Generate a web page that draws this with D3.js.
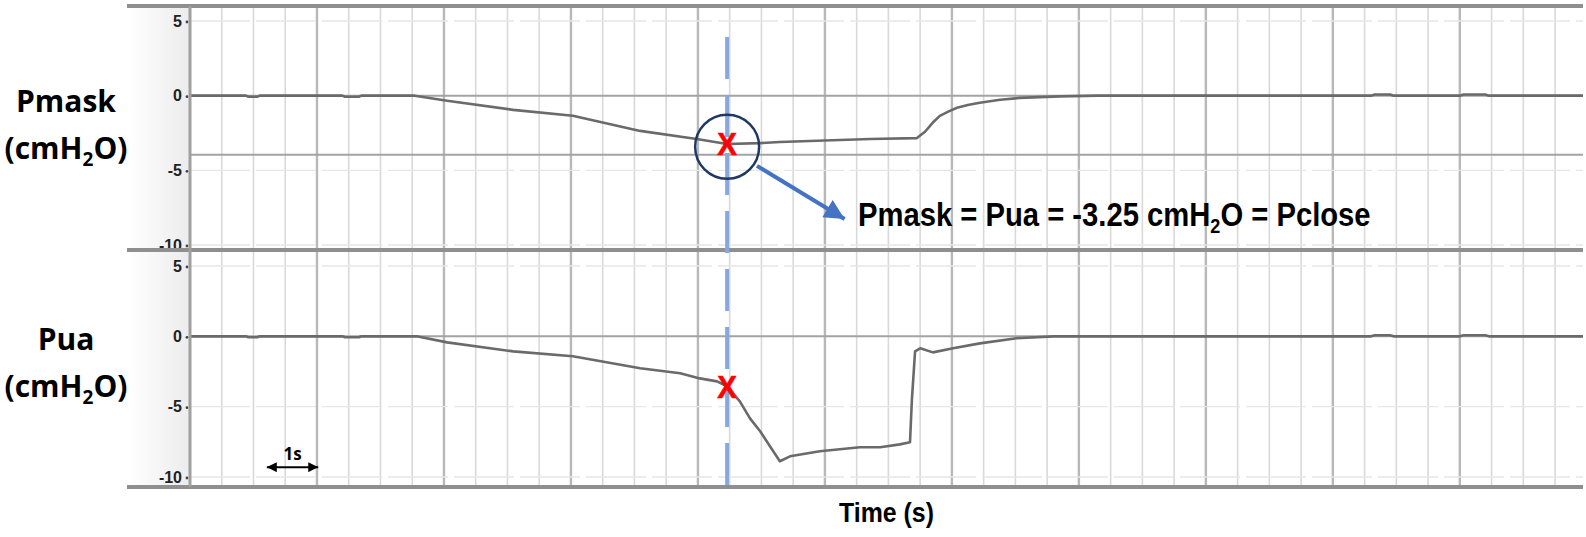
<!DOCTYPE html>
<html><head><meta charset="utf-8">
<script src="https://cdn.jsdelivr.net/npm/d3@7"></script>
<style>body{margin:0;background:#fff}svg{display:block}</style>
</head><body><svg id="c" width="1586" height="537"></svg>
<script>
// ---------- data ----------
const yTicks = [5, 0, -5, -10];
const timeMax = 21.94;
const majorStep = 2, minorStep = 0.5;

const pmaskTime  = [0, 0.88, 0.92, 1.06, 1.1, 2.4, 2.44, 2.66, 2.7, 3.54, 4.05, 5.09, 6.03, 7.09, 7.98, 8.46, 8.98, 9.29, 10.71, 11.45, 11.58, 11.7, 11.81, 11.95, 12.08, 12.25, 12.44, 12.76, 13.07, 13.7, 14.3, 18.6, 18.66, 18.9, 18.96, 20.0, 20.06, 20.4, 20.46, 21.94];
const pmaskValue = [0, 0, -0.07, -0.07, 0, 0, -0.07, -0.07, 0, 0, -0.34, -0.95, -1.35, -2.36, -2.9, -3.24, -3.18, -3.1, -2.9, -2.84, -2.4, -1.8, -1.35, -1.05, -0.81, -0.62, -0.47, -0.27, -0.15, -0.05, 0, 0, 0.08, 0.08, 0, 0, 0.08, 0.08, 0, 0];

const puaTime  = [0, 0.88, 0.92, 1.06, 1.1, 2.4, 2.44, 2.66, 2.7, 3.57, 4.05, 5.09, 6.03, 7.09, 7.72, 8.03, 8.3, 8.46, 8.66, 8.82, 8.98, 9.29, 9.45, 9.92, 10.55, 10.87, 11.18, 11.34, 11.37, 11.42, 11.5, 11.7, 12.02, 12.44, 13.02, 13.6, 18.6, 18.66, 18.9, 18.96, 20.0, 20.06, 20.4, 20.46, 21.94];
const puaValue = [0, 0, -0.07, -0.07, 0, 0, -0.07, -0.07, 0, 0, -0.43, -1.07, -1.42, -2.27, -2.63, -2.99, -3.2, -3.55, -4.62, -5.83, -6.75, -8.88, -8.53, -8.17, -7.89, -7.89, -7.68, -7.53, -4.5, -1.07, -0.85, -1.14, -0.85, -0.5, -0.14, 0, 0, 0.08, 0.08, 0, 0, 0.08, 0.08, 0, 0];

const closeTime = 8.46;          // Pclose instant
const pmaskClose = -3.25, puaClose = -3.6;
const pmaskRefLine = -3.95;      // dark reference line in top trace
const oneSecond = [1.21, 2.02];  // "1s" scale arrow
const arrowFrom = [8.93, -4.7], arrowTo = [10.31, -8.26];
const annotAt = [10.52, -8.72];

// ---------- layout ----------
const svg = d3.select("#c");
const L = 190, R = 1583;
const x = d3.scaleLinear().domain([0, timeMax]).range([L, R]);
const panels = [
  {name: "Pmask", y: d3.scaleLinear().domain([-10, 5]).range([245, 21]), t: pmaskTime, v: pmaskValue, labelY: 112},
  {name: "Pua", y: d3.scaleLinear().domain([-10, 5]).range([477, 266]), t: puaTime, v: puaValue, labelY: 350}
];

function condense(sel, target, x0) {
  const w = sel.node().getBBox().width;
  const k = target / w;
  sel.attr("transform", `translate(${x0},0) scale(${k},1) translate(${-x0},0)`);
}

const defs = svg.append("defs");
const grad = defs.append("linearGradient").attr("id", "g").attr("x1", 0).attr("x2", 1);
grad.append("stop").attr("offset", 0).attr("stop-color", "#ffffff");
grad.append("stop").attr("offset", 1).attr("stop-color", "#ececec");
svg.append("rect").attr("x", 127).attr("y", 6).attr("width", L - 127).attr("height", 481).attr("fill", "url(#g)");

const minors = d3.range(minorStep, timeMax, minorStep).filter(d => Math.abs(d / majorStep - Math.round(d / majorStep)) > 1e-6);
const majors = d3.range(majorStep, timeMax, majorStep);
svg.append("g").selectAll("line").data(minors).join("line")
  .attr("x1", d => x(d)).attr("x2", d => x(d)).attr("y1", 8).attr("y2", 485)
  .attr("stroke", "#d9d9d9").attr("stroke-width", 1.6);
svg.append("g").selectAll("line").data(majors).join("line")
  .attr("x1", d => x(d)).attr("x2", d => x(d)).attr("y1", 8).attr("y2", 485)
  .attr("stroke", "#b8b8b8").attr("stroke-width", 2.4);

panels.forEach((p, i) => {
  const g = svg.append("g");
  g.selectAll(".f").data([5, -5, -10]).join("line")
    .attr("x1", L).attr("x2", R).attr("y1", d => p.y(d)).attr("y2", d => p.y(d))
    .attr("stroke", "#e6e6e6").attr("stroke-width", 1.3).attr("stroke-dasharray", "60,6");
  g.append("line").attr("x1", L).attr("x2", R).attr("y1", p.y(0)).attr("y2", p.y(0))
    .attr("stroke", "#a3a3a3").attr("stroke-width", 2);
  if (i === 0) {
    g.append("line").attr("x1", L).attr("x2", R).attr("y1", p.y(pmaskRefLine)).attr("y2", p.y(pmaskRefLine))
      .attr("stroke", "#a3a3a3").attr("stroke-width", 2);
  }
  g.selectAll(".t").data(yTicks).join("text")
    .attr("x", 182).attr("y", d => p.y(d)).attr("dy", "0.36em").attr("text-anchor", "end")
    .attr("font-family", "Liberation Sans, Arial, sans-serif").attr("font-weight", "bold").attr("font-size", 16)
    .attr("fill", "#222").text(d => d);
  g.selectAll(".d").data(yTicks).join("circle")
    .attr("cx", 187).attr("cy", d => p.y(d) + 1).attr("r", 1.4).attr("fill", "#444");
  const pts = p.t.map((t, k) => [t, p.v[k]]);
  g.append("path").attr("d", d3.line().x(d => x(d[0])).y(d => p.y(d[1]))(pts))
    .attr("fill", "none").attr("stroke", "#6a6a6a").attr("stroke-width", 2.6).attr("stroke-linejoin", "round");
  g.append("text").attr("text-anchor", "middle").attr("x", 66).attr("y", p.labelY)
    .attr("font-family", "Open Sans, Noto Sans, sans-serif").attr("font-weight", "bold").attr("font-size", 30).attr("fill", "#000")
    .text(p.name);
  const l2 = g.append("text").attr("text-anchor", "middle").attr("x", 66).attr("y", p.labelY + 47)
    .attr("font-family", "Open Sans, Noto Sans, sans-serif").attr("font-weight", "bold").attr("font-size", 30).attr("fill", "#000");
  l2.append("tspan").text("(cmH");
  l2.append("tspan").attr("font-size", 19).attr("dy", 7).text("2");
  l2.append("tspan").attr("dy", -7).text("O)");
});

const frame = svg.append("g").attr("stroke", "#8f8f8f").attr("fill", "none");
[6, 250, 487].forEach(yv => {
  frame.append("line").attr("x1", 127).attr("x2", R).attr("y1", yv).attr("y2", yv).attr("stroke-width", 4);
});
frame.append("line").attr("x1", L).attr("x2", L).attr("y1", 6).attr("y2", 487).attr("stroke-width", 3).attr("stroke", "#a0a0a0");

svg.append("line").attr("x1", x(closeTime)).attr("x2", x(closeTime)).attr("y1", 37).attr("y2", 487)
  .attr("stroke", "#86a8df").attr("stroke-width", 4).attr("stroke-dasharray", "42,16");

const yT = panels[0].y, yB = panels[1].y;
svg.append("circle").attr("cx", x(closeTime)).attr("cy", yT(-3.42)).attr("r", 32)
  .attr("fill", "none").attr("stroke", "#1f3864").attr("stroke-width", 2.5);

defs.append("marker").attr("id", "ah").attr("viewBox", "0 0 10 10").attr("refX", 10).attr("refY", 5)
  .attr("markerWidth", 6).attr("markerHeight", 5).attr("markerUnits", "strokeWidth").attr("orient", "auto")
  .append("path").attr("d", "M0,0L10,5L0,10Z").attr("fill", "#4472c4");
svg.append("line").attr("x1", x(arrowFrom[0])).attr("y1", yT(arrowFrom[1]))
  .attr("x2", x(arrowTo[0])).attr("y2", yT(arrowTo[1]))
  .attr("stroke", "#4472c4").attr("stroke-width", 4).attr("marker-end", "url(#ah)");

[[yT, pmaskClose], [yB, puaClose]].forEach(([ys, v]) => {
  const t = svg.append("text").attr("x", x(closeTime)).attr("y", ys(v)).attr("dy", "0.36em").attr("text-anchor", "middle")
    .attr("font-family", "Liberation Sans, sans-serif").attr("font-weight", "bold")
    .attr("font-size", 31).attr("fill", "#ff0000").attr("stroke", "#ff0000").attr("stroke-width", 0.6).text("X");
  condense(t, 20, x(closeTime));
});

const at = svg.append("text").attr("x", x(annotAt[0])).attr("y", yT(annotAt[1]))
  .attr("font-family", "Liberation Sans, sans-serif").attr("font-weight", "bold")
  .attr("font-size", 34).attr("fill", "#000");
at.append("tspan").text("Pmask = Pua = -3.25 cmH");
at.append("tspan").attr("font-size", 21).attr("dy", 7).text("2");
at.append("tspan").attr("dy", -7).text("O = Pclose");
condense(at, 513, x(annotAt[0]));

const ya = yB(-9.3);
defs.append("marker").attr("id", "bh").attr("viewBox", "0 0 10 10").attr("refX", 10).attr("refY", 5)
  .attr("markerWidth", 5).attr("markerHeight", 5).attr("orient", "auto-start-reverse")
  .append("path").attr("d", "M0,0L10,5L0,10Z").attr("fill", "#000");
svg.append("line").attr("x1", x(oneSecond[0])).attr("x2", x(oneSecond[1])).attr("y1", ya).attr("y2", ya)
  .attr("stroke", "#000").attr("stroke-width", 2).attr("marker-start", "url(#bh)").attr("marker-end", "url(#bh)");
svg.append("text").attr("x", x((oneSecond[0] + oneSecond[1]) / 2)).attr("y", ya - 7).attr("text-anchor", "middle")
  .attr("font-family", "Open Sans, sans-serif").attr("font-weight", "bold").attr("font-size", 17).text("1s");

const tt = svg.append("text").attr("x", x(10.97)).attr("y", 522).attr("text-anchor", "middle")
  .attr("font-family", "Liberation Sans, sans-serif").attr("font-weight", "bold")
  .attr("font-size", 28).attr("fill", "#000").text("Time (s)");
condense(tt, 95, x(10.97));
</script></body></html>
